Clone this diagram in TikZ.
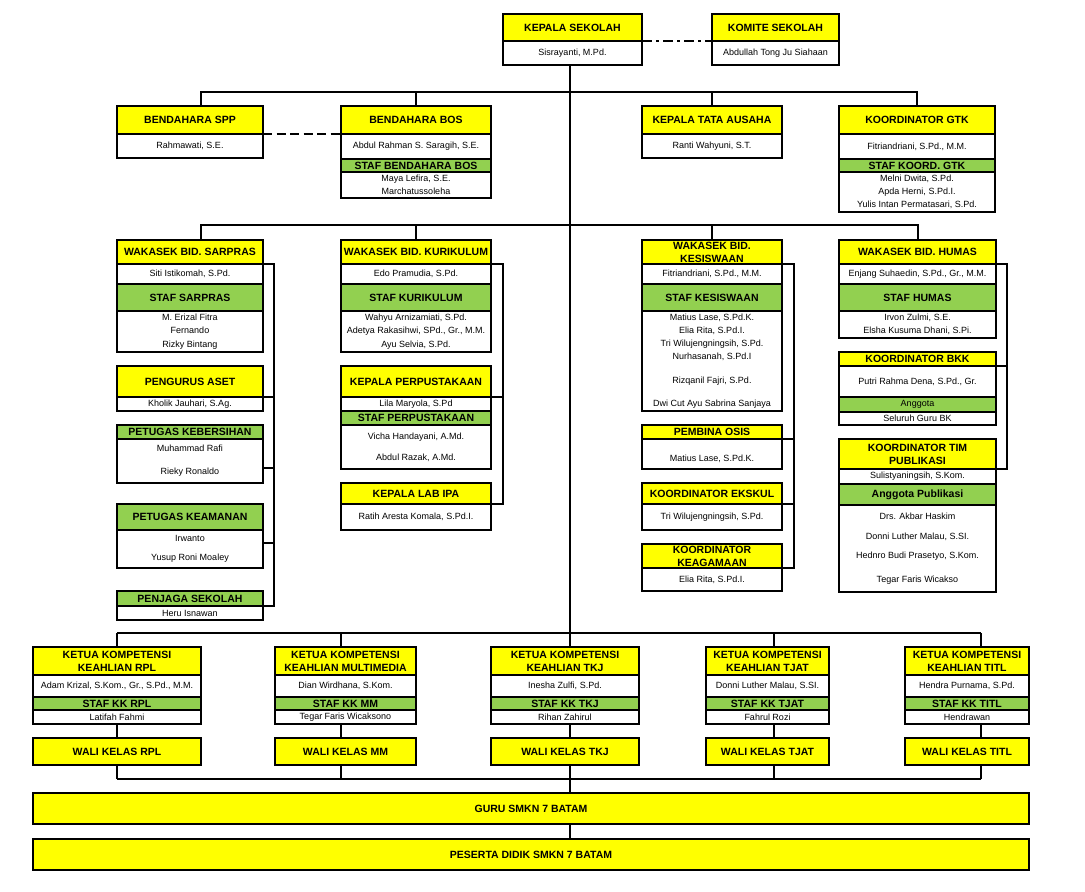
\documentclass[tikz,border=0pt]{standalone}
\usepackage{fontspec}
\setmainfont{Liberation Sans}
\usetikzlibrary{positioning}
\definecolor{kuning}{HTML}{FFFF00}
\definecolor{hijau}{HTML}{92D050}

\begin{document}
\begin{tikzpicture}[
    x=1pt, y=-1pt, line width=2pt,
    cell/.style={draw=black, align=center, inner sep=1pt, outer sep=0pt},
    head/.style={cell, fill=kuning, font=\fontsize{10.5}{13}\selectfont\bfseries},
    staf/.style={cell, fill=hijau, font=\fontsize{10.5}{13}\selectfont\bfseries},
    anggota/.style={cell, fill=hijau, font=\fontsize{9}{13.3}\selectfont},
    nama/.style={cell, fill=white, font=\fontsize{9}{13.3}\selectfont},
    cw/.style={minimum width=#1pt},
    rh/.style={minimum height=#1pt},
    dashline/.style={dash pattern=on 9pt off 4.5pt},
    dashdot/.style={dash pattern=on 10pt off 4pt on 3pt off 4pt}
  ]
    \useasboundingbox (0,0) rectangle (1085,892);

    % pimpinan
    \node[head, cw=139, rh=27, anchor=north west] (kepsek) at (503,14) {KEPALA SEKOLAH};
    \node[nama, cw=139, rh=24, below=0pt of kepsek] (kepsekN) {Sisrayanti, M.Pd.};
    \node[head, cw=127, rh=27, anchor=north west] (komite) at (712,14) {KOMITE SEKOLAH};
    \node[nama, cw=127, rh=24, below=0pt of komite] (komiteN) {Abdullah Tong Ju Siahaan};

    % baris pertama
    \node[head, cw=146, rh=28, anchor=north west] (spp) at (117,106) {BENDAHARA SPP};
    \node[nama, cw=146, rh=24, below=0pt of spp] (sppN) {Rahmawati, S.E.};

    \node[head, cw=150, rh=28, anchor=north west] (bos) at (341,106) {BENDAHARA BOS};
    \node[nama, cw=150, rh=25, below=0pt of bos] (bosN) {Abdul Rahman S. Saragih, S.E.};
    \node[staf, cw=150, rh=13, below=0pt of bosN] (bosG) {STAF BENDAHARA BOS};
    \node[nama, cw=150, rh=26, below=0pt of bosG] (bosS) {Maya Lefira, S.E.\\Marchatussoleha};

    \node[head, cw=140, rh=28, anchor=north west] (tu) at (642,106) {KEPALA TATA AUSAHA};
    \node[nama, cw=140, rh=24, below=0pt of tu] (tuN) {Ranti Wahyuni, S.T.};

    \node[head, cw=156, rh=28, anchor=north west] (gtk) at (839,106) {KOORDINATOR GTK};
    \node[nama, cw=156, rh=25, below=0pt of gtk] (gtkN) {Fitriandriani, S.Pd., M.M.};
    \node[staf, cw=156, rh=13, below=0pt of gtkN] (gtkG) {STAF KOORD. GTK};
    \node[nama, cw=156, rh=40, below=0pt of gtkG] (gtkS) {Melni Dwita, S.Pd.\\Apda Herni, S.Pd.I.\\Yulis Intan Permatasari, S.Pd.};

    % sarpras
    \node[head, cw=146, rh=24, anchor=north west] (sarpras) at (117,240) {WAKASEK BID. SARPRAS};
    \node[nama, cw=146, rh=20, below=0pt of sarpras] (sarprasN) {Siti Istikomah, S.Pd.};
    \node[staf, cw=146, rh=27, below=0pt of sarprasN] (sarprasG) {STAF SARPRAS};
    \node[nama, cw=146, rh=41, below=0pt of sarprasG] (sarprasS) {M. Erizal Fitra\\Fernando\\Rizky Bintang};
    \node[head, cw=146, rh=31, anchor=north west] (aset) at (117,366) {PENGURUS ASET};
    \node[nama, cw=146, rh=14, below=0pt of aset] (asetN) {Kholik Jauhari, S.Ag.};
    \node[staf, cw=146, rh=14, anchor=north west] (bersih) at (117,425) {PETUGAS KEBERSIHAN};
    \node[nama, cw=146, rh=44, below=0pt of bersih] (bersihS) {Muhammad Rafi\\[10pt]Rieky Ronaldo};
    \node[staf, cw=146, rh=26, anchor=north west] (aman) at (117,504) {PETUGAS KEAMANAN};
    \node[nama, cw=146, rh=38, below=0pt of aman] (amanS) {Irwanto\\[6pt]Yusup Roni Moaley};
    \node[staf, cw=146, rh=15, anchor=north west] (jaga) at (117,591) {PENJAGA SEKOLAH};
    \node[nama, cw=146, rh=14, below=0pt of jaga] (jagaS) {Heru Isnawan};

    % kurikulum
    \node[head, cw=150, rh=24, anchor=north west] (kurikulum) at (341,240) {WAKASEK BID. KURIKULUM};
    \node[nama, cw=150, rh=20, below=0pt of kurikulum] (kurikulumN) {Edo Pramudia, S.Pd.};
    \node[staf, cw=150, rh=27, below=0pt of kurikulumN] (kurikulumG) {STAF KURIKULUM};
    \node[nama, cw=150, rh=41, below=0pt of kurikulumG] (kurikulumS) {Wahyu Arnizamiati, S.Pd.\\Adetya Rakasihwi, SPd., Gr., M.M.\\Ayu Selvia, S.Pd.};
    \node[head, cw=150, rh=31, anchor=north west] (pustaka) at (341,366) {KEPALA PERPUSTAKAAN};
    \node[nama, cw=150, rh=14, below=0pt of pustaka] (pustakaN) {Lila Maryola, S.Pd};
    \node[staf, cw=150, rh=14, below=0pt of pustakaN] (pustakaG) {STAF PERPUSTAKAAN};
    \node[nama, cw=150, rh=44, below=0pt of pustakaG] (pustakaS) {Vicha Handayani, A.Md.\\[8pt]Abdul Razak, A.Md.};
    \node[head, cw=150, rh=21, anchor=north west] (lab) at (341,483) {KEPALA LAB IPA};
    \node[nama, cw=150, rh=26, below=0pt of lab] (labN) {Ratih Aresta Komala, S.Pd.I.};

    % kesiswaan
    \node[head, cw=140, rh=24, anchor=north west] (siswa) at (642,240) {WAKASEK BID.\\KESISWAAN};
    \node[nama, cw=140, rh=20, below=0pt of siswa] (siswaN) {Fitriandriani, S.Pd., M.M.};
    \node[staf, cw=140, rh=27, below=0pt of siswaN] (siswaG) {STAF KESISWAAN};
    \node[nama, cw=140, rh=100, below=0pt of siswaG] (siswaS) {Matius Lase, S.Pd.K.\\Elia Rita, S.Pd.I.\\Tri Wilujengningsih, S.Pd.\\Nurhasanah, S.Pd.I\\[10pt]Rizqanil Fajri, S.Pd.\\[10pt]Dwi Cut Ayu Sabrina Sanjaya};
    \node[head, cw=140, rh=14, anchor=north west] (osis) at (642,425) {PEMBINA OSIS};
    \node[nama, cw=140, rh=30, below=0pt of osis] (osisN) {\mbox{}\\[3pt]Matius Lase, S.Pd.K.};
    \node[head, cw=140, rh=21, anchor=north west] (ekskul) at (642,483) {KOORDINATOR EKSKUL};
    \node[nama, cw=140, rh=26, below=0pt of ekskul] (ekskulN) {Tri Wilujengningsih, S.Pd.};
    \node[head, cw=140, rh=24, anchor=north west] (agama) at (642,544) {KOORDINATOR\\KEAGAMAAN};
    \node[nama, cw=140, rh=23, below=0pt of agama] (agamaN) {Elia Rita, S.Pd.I.};

    % humas
    \node[head, cw=157, rh=24, anchor=north west] (humas) at (839,240) {WAKASEK BID. HUMAS};
    \node[nama, cw=157, rh=20, below=0pt of humas] (humasN) {Enjang Suhaedin, S.Pd., Gr., M.M.};
    \node[staf, cw=157, rh=27, below=0pt of humasN] (humasG) {STAF HUMAS};
    \node[nama, cw=157, rh=27, below=0pt of humasG] (humasS) {Irvon Zulmi, S.E.\\Elsha Kusuma Dhani, S.Pi.};
    \node[head, cw=157, rh=14, anchor=north west] (bkk) at (839,352) {KOORDINATOR BKK};
    \node[nama, cw=157, rh=31, below=0pt of bkk] (bkkN) {Putri Rahma Dena, S.Pd., Gr.};
    \node[anggota, cw=157, rh=15, below=0pt of bkkN] (bkkG) {Anggota};
    \node[nama, cw=157, rh=13, below=0pt of bkkG] (bkkS) {Seluruh Guru BK};
    \node[head, cw=157, rh=30, anchor=north west] (publikasi) at (839,439) {KOORDINATOR TIM\\PUBLIKASI};
    \node[nama, cw=157, rh=15, below=0pt of publikasi] (publikasiN) {Sulistyaningsih, S.Kom.};
    \node[staf, cw=157, rh=21, below=0pt of publikasiN] (publikasiG) {Anggota Publikasi};
    \node[nama, cw=157, rh=87, below=0pt of publikasiG] (publikasiS) {Drs. Akbar Haskim\\[6.7pt]Donni Luther Malau, S.SI.\\[5.7pt]Hednro Budi Prasetyo, S.Kom.\\[10.3pt]Tegar Faris Wicakso};

    % kompetensi keahlian
    \node[head, cw=168, rh=28, anchor=north west] (rpl) at (33,647) {KETUA KOMPETENSI\\KEAHLIAN RPL};
    \node[nama, cw=168, rh=22, below=0pt of rpl] (rplN) {Adam Krizal, S.Kom., Gr., S.Pd., M.M.};
    \node[staf, cw=168, rh=13, below=0pt of rplN] (rplG) {STAF KK RPL};
    \node[nama, cw=168, rh=14, below=0pt of rplG] (rplS) {Latifah Fahmi};
    \node[head, cw=168, rh=27, anchor=north west] (rplW) at (33,738) {WALI KELAS RPL};

    \node[head, cw=141, rh=28, anchor=north west] (mm) at (275,647) {KETUA KOMPETENSI\\KEAHLIAN MULTIMEDIA};
    \node[nama, cw=141, rh=22, below=0pt of mm] (mmN) {Dian Wirdhana, S.Kom.};
    \node[staf, cw=141, rh=13, below=0pt of mmN] (mmG) {STAF KK MM};
    \node[nama, cw=141, rh=14, below=0pt of mmG] (mmS) {Tegar Faris Wicaksono};
    \node[head, cw=141, rh=27, anchor=north west] (mmW) at (275,738) {WALI KELAS MM};

    \node[head, cw=148, rh=28, anchor=north west] (tkj) at (491,647) {KETUA KOMPETENSI\\KEAHLIAN TKJ};
    \node[nama, cw=148, rh=22, below=0pt of tkj] (tkjN) {Inesha Zulfi, S.Pd.};
    \node[staf, cw=148, rh=13, below=0pt of tkjN] (tkjG) {STAF KK TKJ};
    \node[nama, cw=148, rh=14, below=0pt of tkjG] (tkjS) {Rihan Zahirul};
    \node[head, cw=148, rh=27, anchor=north west] (tkjW) at (491,738) {WALI KELAS TKJ};

    \node[head, cw=123, rh=28, anchor=north west] (tjat) at (706,647) {KETUA KOMPETENSI\\KEAHLIAN TJAT};
    \node[nama, cw=123, rh=22, below=0pt of tjat] (tjatN) {Donni Luther Malau, S.SI.};
    \node[staf, cw=123, rh=13, below=0pt of tjatN] (tjatG) {STAF KK TJAT};
    \node[nama, cw=123, rh=14, below=0pt of tjatG] (tjatS) {Fahrul Rozi};
    \node[head, cw=123, rh=27, anchor=north west] (tjatW) at (706,738) {WALI KELAS TJAT};

    \node[head, cw=124, rh=28, anchor=north west] (titl) at (905,647) {KETUA KOMPETENSI\\KEAHLIAN TITL};
    \node[nama, cw=124, rh=22, below=0pt of titl] (titlN) {Hendra Purnama, S.Pd.};
    \node[staf, cw=124, rh=13, below=0pt of titlN] (titlG) {STAF KK TITL};
    \node[nama, cw=124, rh=14, below=0pt of titlG] (titlS) {Hendrawan};
    \node[head, cw=124, rh=27, anchor=north west] (titlW) at (905,738) {WALI KELAS TITL};

    \node[head, cw=996, rh=31, anchor=north west] (guru) at (33,793) {GURU SMKN 7 BATAM};
    \node[head, cw=996, rh=31, anchor=north west] (peserta) at (33,839) {PESERTA DIDIK SMKN 7 BATAM};

    % garis
    \coordinate (bus1) at (570,92);
    \coordinate (bus2) at (570,225);
    \coordinate (bus3) at (570,633);
    \coordinate (bus4) at (570,779);
    \coordinate (axRpl) at (117,633);
    \coordinate (axMm) at (341,633);
    \coordinate (axTkj) at (570,633);
    \coordinate (axTjat) at (774,633);
    \coordinate (axTitl) at (981,633);

    \draw[dashdot] (kepsek.south east) -- (komite.south west);
    \draw[dashline] (spp.south east) -- (bos.south west);
    \draw (kepsekN.south -| bus1) -- (bus3);

    \draw ([xshift=11pt]spp.north) |- (bus1) -| (gtk.north);
    \draw (bos.north) -- (bos.north |- bus1);
    \draw (tu.north) -- (tu.north |- bus1);

    \draw ([xshift=11pt]sarpras.north) |- (bus2) -| (humas.north);
    \draw (kurikulum.north) -- (kurikulum.north |- bus2);
    \draw (siswa.north) -- (siswa.north |- bus2);

    \draw (sarpras.south east) -- ++(11pt,0) |- (jaga.south east);
    \draw (aset.south east) -- ++(11pt,0);
    \draw ([yshift=-7pt]bersihS.east) -- ++(11pt,0);
    \draw ([yshift=6pt]amanS.east) -- ++(11pt,0);

    \draw (kurikulum.south east) -- ++(12pt,0) |- (lab.south east);
    \draw (pustaka.south east) -- ++(12pt,0);

    \draw (siswa.south east) -- ++(12pt,0) |- (agama.south east);
    \draw (osis.south east) -- ++(12pt,0);
    \draw (ekskul.south east) -- ++(12pt,0);

    \draw (humas.south east) -- ++(11pt,0) |- (publikasi.south east);
    \draw (bkk.south east) -- ++(11pt,0);

    \draw (axRpl) -- (axTitl);
    \draw (axRpl) -- (axRpl |- rpl.north) (axRpl |- rplS.south) -- (axRpl |- rplW.north) (axRpl |- rplW.south) -- (axRpl |- bus4);
    \draw (axMm) -- (axMm |- mm.north) (axMm |- mmS.south) -- (axMm |- mmW.north) (axMm |- mmW.south) -- (axMm |- bus4);
    \draw (axTkj) -- (axTkj |- tkj.north) (axTkj |- tkjS.south) -- (axTkj |- tkjW.north) (axTkj |- tkjW.south) -- (axTkj |- guru.north);
    \draw (axTjat) -- (axTjat |- tjat.north) (axTjat |- tjatS.south) -- (axTjat |- tjatW.north) (axTjat |- tjatW.south) -- (axTjat |- bus4);
    \draw (axTitl) -- (axTitl |- titl.north) (axTitl |- titlS.south) -- (axTitl |- titlW.north) (axTitl |- titlW.south) -- (axTitl |- bus4);
    \draw (axRpl |- bus4) -- (axTitl |- bus4);
    \draw (axTkj |- guru.south) -- (axTkj |- peserta.north);
  \end{tikzpicture}
\end{document}
